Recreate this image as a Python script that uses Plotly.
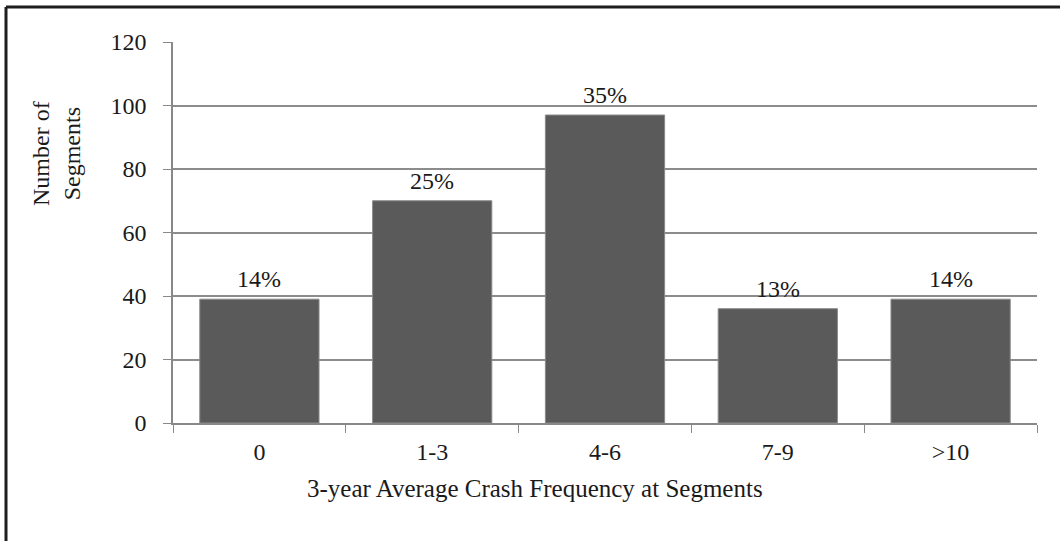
import plotly.graph_objects as go

categories = ["0", "1-3", "4-6", "7-9", ">10"]
segments = [39, 70, 97, 36, 39]
pct_labels = ["14%", "25%", "35%", "13%", "14%"]
y_ticks = [0, 20, 40, 60, 80, 100, 120]

FONT = "Liberation Serif, Times New Roman, serif"
W, H = 1060, 541
L, R, T, B = 173, 23, 42, 118
pw = W - L - R
ph = H - T - B

def px_to_paper_x(px):
    return (px - L) / pw

def px_to_paper_y(py):
    return (H - B - py) / ph

fig = go.Figure()
fig.add_trace(go.Bar(
    x=categories, y=segments,
    marker=dict(color="#5a5a5a", line=dict(color="#8a8a8a", width=1)),
    hoverinfo="x+y",
))

annotations = []
for c, v, lab in zip(categories, segments, pct_labels):
    annotations.append(dict(x=c, y=v, xref="x", yref="y", text=lab, showarrow=False,
                            yanchor="bottom", yshift=5,
                            font=dict(family=FONT, size=24, color="#1a1a1a")))

annotations.append(dict(text="Number of<br>Segments", xref="paper", yref="paper",
                        x=px_to_paper_x(56), y=px_to_paper_y(154), xanchor="center", yanchor="middle",
                        textangle=-90, showarrow=False,
                        font=dict(family=FONT, size=24, color="#1a1a1a")))
annotations.append(dict(text="3-year Average Crash Frequency at Segments", xref="paper", yref="paper",
                        x=px_to_paper_x(535), y=px_to_paper_y(489), xanchor="center", yanchor="middle",
                        showarrow=False,
                        font=dict(family=FONT, size=25, color="#1a1a1a")))

shapes = [
    dict(type="line", xref="paper", yref="paper",
         x0=px_to_paper_x(6), x1=px_to_paper_x(1070), y0=px_to_paper_y(7), y1=px_to_paper_y(7),
         line=dict(color="#1e1e1e", width=3)),
    dict(type="line", xref="paper", yref="paper",
         x0=px_to_paper_x(6), x1=px_to_paper_x(6), y0=px_to_paper_y(7), y1=px_to_paper_y(560),
         line=dict(color="#1e1e1e", width=3)),
]

fig.update_layout(
    width=W, height=H,
    margin=dict(l=L, r=R, t=T, b=B, pad=0),
    paper_bgcolor="white", plot_bgcolor="white",
    bargap=0.31,
    showlegend=False,
    annotations=annotations,
    shapes=shapes,
    font=dict(family=FONT, size=24, color="#1a1a1a"),
)
fig.update_xaxes(
    type="category", tickson="boundaries", ticks="outside", ticklen=8, tickcolor="#888888",
    showline=True, linecolor="#888888", linewidth=1.5, showgrid=False,
    tickfont=dict(family=FONT, size=24, color="#1a1a1a"), ticklabelstandoff=6,
)
fig.update_yaxes(
    range=[0, 120], tickvals=y_ticks, ticks="outside", ticklen=8, tickcolor="#888888",
    showline=True, linecolor="#888888", linewidth=1.5,
    showgrid=True, gridcolor="#8c8c8c", gridwidth=1.5, zeroline=False,
    tickfont=dict(family=FONT, size=24, color="#1a1a1a"), ticklabelstandoff=12,
)

fig.write_html("out.html", config={"displayModeBar": False},
               post_script="document.body.style.margin='0';document.body.style.overflow='hidden';")
